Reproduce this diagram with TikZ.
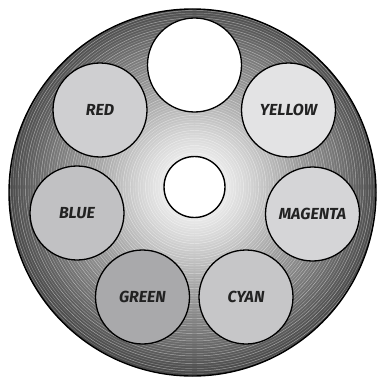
\documentclass[tikz,border=0pt]{standalone}
\usepackage{fontspec}
\setmainfont{Fira Sans}
\definecolor{shA}{HTML}{F2F2F2}
\definecolor{shB}{HTML}{D8D8D8}
\definecolor{shC}{HTML}{A0A0A0}
\definecolor{shD}{HTML}{747474}
\definecolor{shE}{HTML}{4A4A4A}
\definecolor{cRed}{HTML}{CFCFD1}
\definecolor{cYellow}{HTML}{E3E3E4}
\definecolor{cBlue}{HTML}{C1C1C3}
\definecolor{cMagenta}{HTML}{D5D5D7}
\definecolor{cGreen}{HTML}{A9A9AB}
\definecolor{cCyan}{HTML}{C6C6C8}
\definecolor{txt}{HTML}{222222}
\pgfdeclareradialshading{wheelshade}{\pgfpoint{0.25bp}{0.9bp}}{color(0bp)=(shA); color(3bp)=(shA); color(7bp)=(shB); color(14bp)=(shC); color(20bp)=(shD); color(25bp)=(shE); color(50bp)=(shE)}
\tikzset{
  slot/.style={circle, draw=black, line width=1.3pt, minimum size=94pt, inner sep=0pt,
    font=\fontsize{16}{16}\selectfont\bfseries\itshape, text=txt},
  hole/.style={circle, draw=black, line width=1.4pt, fill=white, minimum size=61pt, inner sep=0pt},
  ring/.style={white, line width=0.45pt}
}
\begin{document}
\begin{tikzpicture}[x=1pt,y=-1pt]
\useasboundingbox (0,0) rectangle (379,377);
\coordinate (wc) at (192.5,192.5);
\coordinate (hc) at (194.5,187);
\fill[shading=wheelshade] (wc) circle (183.5);
\begin{scope}
  \clip (wc) circle (183.5);
  \foreach \r [count=\i] in {14,16.5,...,190} {
    \pgfmathsetmacro{\op}{mod(\i,3)==0 ? 0.5 : (mod(\i,3)==1 ? 0.25 : 0.35)}
    \draw[ring, opacity=\op] (hc) circle (\r);
  }
\end{scope}
\draw[black, line width=1.4pt] (wc) circle (183.5);
\node[hole] (center) at (hc) {};
\node[slot, fill=white] (top) at (194.5,65) {};
\node[slot, fill=cRed] (red) at (100,110) {RED};
\node[slot, fill=cYellow] (yellow) at (288.5,110) {YELLOW};
\node[slot, fill=cBlue] (blue) at (77,213) {BLUE};
\node[slot, fill=cMagenta] (magenta) at (312.5,214) {MAGENTA};
\node[slot, fill=cGreen] (green) at (142.5,297) {GREEN};
\node[slot, fill=cCyan] (cyan) at (246,297) {CYAN};
\end{tikzpicture}
\end{document}
